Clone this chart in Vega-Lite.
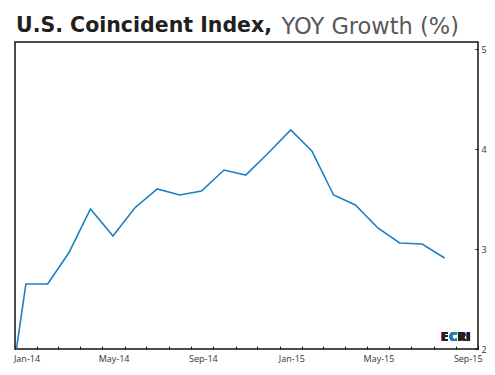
{
  "$schema": "https://vega.github.io/schema/vega-lite/v6.json",
  "autosize": {"type": "none"},
  "padding": {"left": 15, "top": 42, "right": 17, "bottom": 26},
  "width": 463,
  "height": 307,
  "background": "white",
  "title": {
    "text": "U.S. Coincident Index,",
    "anchor": "start",
    "frame": "group",
    "orient": "top",
    "baseline": "alphabetic",
    "offset": -37,
    "dx": 1,
    "font": "DejaVu Sans",
    "fontSize": 20.5,
    "fontWeight": "bold",
    "color": "#231f20"
  },
  "config": {
    "view": {"stroke": "#111", "strokeWidth": 1.5},
    "axis": {
      "labelFont": "Open Sans",
      "labelFontSize": 9,
      "labelColor": "#333",
      "tickColor": "#111",
      "domain": false,
      "grid": false
    }
  },
  "data": {
    "values": [
      {"date": "2013-12-16", "growth": 1.1},
      {"date": "2014-01-16", "growth": 2.65},
      {"date": "2014-02-15", "growth": 2.65},
      {"date": "2014-03-16", "growth": 2.96},
      {"date": "2014-04-15", "growth": 3.40},
      {"date": "2014-05-16", "growth": 3.13},
      {"date": "2014-06-15", "growth": 3.41},
      {"date": "2014-07-16", "growth": 3.60},
      {"date": "2014-08-16", "growth": 3.54},
      {"date": "2014-09-15", "growth": 3.58},
      {"date": "2014-10-16", "growth": 3.79},
      {"date": "2014-11-15", "growth": 3.74},
      {"date": "2014-12-16", "growth": 3.96},
      {"date": "2015-01-16", "growth": 4.19},
      {"date": "2015-02-14", "growth": 3.98},
      {"date": "2015-03-16", "growth": 3.54},
      {"date": "2015-04-15", "growth": 3.44},
      {"date": "2015-05-16", "growth": 3.21},
      {"date": "2015-06-15", "growth": 3.06},
      {"date": "2015-07-16", "growth": 3.05},
      {"date": "2015-08-16", "growth": 2.91}
    ]
  },
  "layer": [
    {
      "mark": {"type": "line", "color": "#1b7fc4", "strokeWidth": 1.6, "clip": true},
      "encoding": {
        "x": {
          "field": "date",
          "type": "temporal",
          "scale": {
            "type": "utc",
            "domain": [
              {"year": 2014, "month": 1, "date": 1, "utc": true},
              {"year": 2015, "month": 10, "date": 1, "utc": true}
            ],
            "nice": false
          },
          "axis": {
            "title": null,
            "orient": "bottom",
            "tickCount": {"interval": "month", "step": 1},
            "tickSize": -3,
            "labelPadding": 8,
            "labelOffset": 11.5,
            "labelAlign": "center",
            "labelOverlap": false,
            "labelBound": false,
            "labelFlush": false,
            "labelExpr": "utcmonth(datum.value) % 4 == 0 && datum.value < datetime(2015, 9, 1) ? utcFormat(datum.value, '%b-%y') : ''"
          }
        },
        "y": {
          "field": "growth",
          "type": "quantitative",
          "scale": {"domain": [2, 5.07], "nice": false, "zero": false},
          "axis": {
            "orient": "right",
            "values": [2, 3, 4, 5],
            "format": "d",
            "tickSize": -3,
            "labelPadding": 6,
            "labelBaseline": "middle",
            "title": "YOY Growth (%)",
            "titleAngle": 0,
            "titleAlign": "left",
            "titleBaseline": "alphabetic",
            "titleAnchor": null,
            "titleX": -197,
            "titleY": -9,
            "titleFont": "DejaVu Sans",
            "titleFontSize": 22.5,
            "titleFontWeight": "normal",
            "titleColor": "#58595b"
          }
        }
      }
    },
    {
      "mark": {"type": "text", "text": "E", "align": "left", "baseline": "alphabetic", "font": "Open Sans", "fontSize": 12.5, "fontWeight": 800, "color": "#231f20", "dx": 0},
      "encoding": {
        "x": {"datum": {"year": 2015, "month": 8, "date": 11, "utc": true}, "type": "temporal"},
        "y": {"datum": 2.083, "type": "quantitative"}
      }
    },
    {
      "mark": {"type": "text", "text": "C", "align": "left", "baseline": "alphabetic", "font": "Open Sans", "fontSize": 12.5, "fontWeight": 800, "color": "#1b7fc4", "dx": 8},
      "encoding": {
        "x": {"datum": {"year": 2015, "month": 8, "date": 11, "utc": true}, "type": "temporal"},
        "y": {"datum": 2.083, "type": "quantitative"}
      }
    },
    {
      "mark": {"type": "text", "text": "RI", "align": "left", "baseline": "alphabetic", "font": "Open Sans", "fontSize": 12.5, "fontWeight": 800, "color": "#231f20", "dx": 16.5},
      "encoding": {
        "x": {"datum": {"year": 2015, "month": 8, "date": 11, "utc": true}, "type": "temporal"},
        "y": {"datum": 2.083, "type": "quantitative"}
      }
    }
  ]
}
